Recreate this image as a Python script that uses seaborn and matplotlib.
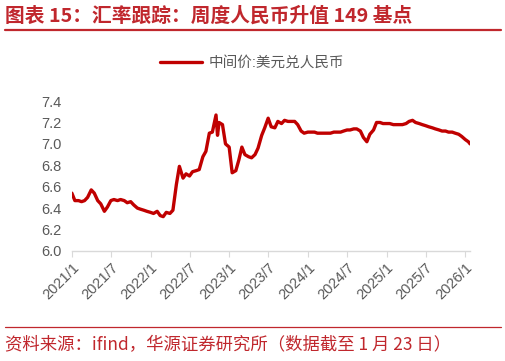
import pandas as pd
import seaborn as sns
import matplotlib.pyplot as plt

# semi-monthly readings of the USD/CNY central parity
dates = [
    "2021-01-01", "2021-01-15", "2021-02-01", "2021-02-15", "2021-03-01", "2021-03-15",
    "2021-04-01", "2021-04-15", "2021-05-01", "2021-05-15", "2021-06-01", "2021-06-15",
    "2021-07-01", "2021-07-15", "2021-08-01", "2021-08-15", "2021-09-01", "2021-09-15",
    "2021-10-01", "2021-10-15", "2021-11-01", "2021-11-15", "2021-12-01", "2021-12-15",
    "2022-01-01", "2022-01-15", "2022-02-01", "2022-02-15", "2022-03-01", "2022-03-15",
    "2022-04-01", "2022-04-15", "2022-05-01", "2022-05-15", "2022-06-01", "2022-06-15",
    "2022-07-01", "2022-07-15", "2022-08-01", "2022-08-15", "2022-09-01", "2022-09-15",
    "2022-10-01", "2022-10-15", "2022-11-01", "2022-11-08", "2022-11-15", "2022-12-01",
    "2022-12-15",
    "2023-01-01", "2023-01-15", "2023-02-01", "2023-02-15", "2023-03-01", "2023-03-15",
    "2023-04-01", "2023-04-15", "2023-05-01", "2023-05-15", "2023-06-01", "2023-06-15",
    "2023-07-01", "2023-07-15", "2023-08-01", "2023-08-15", "2023-09-01", "2023-09-15",
    "2023-10-01", "2023-10-15", "2023-11-01", "2023-11-15", "2023-12-01", "2023-12-15",
    "2024-01-01", "2024-01-15", "2024-02-01", "2024-02-15", "2024-03-01", "2024-03-15",
    "2024-04-01", "2024-04-15", "2024-05-01", "2024-05-15", "2024-06-01", "2024-06-15",
    "2024-07-01", "2024-07-15", "2024-08-01", "2024-08-15", "2024-09-01", "2024-09-15",
    "2024-10-01", "2024-10-15", "2024-11-01", "2024-11-15", "2024-12-01", "2024-12-15",
    "2025-01-01", "2025-01-15", "2025-02-01", "2025-02-15", "2025-03-01", "2025-03-15",
    "2025-04-01", "2025-04-15", "2025-05-01", "2025-05-15", "2025-06-01", "2025-06-15",
    "2025-07-01", "2025-07-15", "2025-08-01", "2025-08-15", "2025-09-01", "2025-09-15",
    "2025-10-01", "2025-10-15", "2025-11-01", "2025-11-15", "2025-12-01", "2025-12-15",
    "2026-01-01", "2026-01-15", "2026-01-23",
]
rates = [
    6.54, 6.47, 6.47, 6.46, 6.47, 6.50,
    6.57, 6.54, 6.47, 6.44, 6.37, 6.41,
    6.47, 6.48, 6.47, 6.48, 6.47, 6.45,
    6.46, 6.43, 6.40, 6.39, 6.38, 6.37,
    6.36, 6.35, 6.37, 6.33, 6.32, 6.36,
    6.35, 6.38, 6.62, 6.79, 6.68, 6.72,
    6.70, 6.74, 6.75, 6.76, 6.88, 6.93,
    7.10, 7.11, 7.27, 7.08, 7.20, 7.18,
    7.00,
    6.97, 6.73, 6.75, 6.85, 6.97, 6.90,
    6.88, 6.87, 6.90, 6.96, 7.08, 7.15,
    7.24, 7.16, 7.15, 7.21, 7.19, 7.22,
    7.21, 7.21, 7.21, 7.18, 7.12, 7.10,
    7.11, 7.11, 7.11, 7.10, 7.10, 7.10,
    7.10, 7.10, 7.11, 7.11, 7.11, 7.12,
    7.13, 7.13, 7.14, 7.14, 7.12, 7.06,
    7.02, 7.09, 7.13, 7.20, 7.20, 7.19,
    7.19, 7.19, 7.18, 7.18, 7.18, 7.18,
    7.19, 7.21, 7.22, 7.20, 7.19, 7.18,
    7.17, 7.16, 7.15, 7.14, 7.13, 7.12,
    7.12, 7.11, 7.11, 7.10, 7.09, 7.07,
    7.04, 7.02, 7.00,
]
tick_dates = ["2021-01-01", "2021-07-01", "2022-01-01", "2022-07-01", "2023-01-01", "2023-07-01",
              "2024-01-01", "2024-07-01", "2025-01-01", "2025-07-01", "2026-01-01"]
tick_labels = ["2021/1", "2021/7", "2022/1", "2022/7", "2023/1", "2023/7",
               "2024/1", "2024/7", "2025/1", "2025/7", "2026/1"]
y_ticks = [6.0, 6.2, 6.4, 6.6, 6.8, 7.0, 7.2, 7.4]

series_name = "中间价:美元兑人民币"
df = pd.DataFrame({"date": pd.to_datetime(dates), "rate": rates})

sns.set_style("white")
plt.rcParams["font.family"] = ["Liberation Sans", "Noto Sans CJK SC", "DejaVu Sans"]

red = "#C00000"
title_red = "#C0272D"
grey = "#595959"

fig = plt.figure(figsize=(5.06, 3.61), dpi=100)
ax = fig.add_axes([0.142, 0.305, 0.787, 0.415])

sns.lineplot(data=df, x="date", y="rate", ax=ax, color=red, linewidth=2.4, label=series_name)

ax.set_xlim(pd.Timestamp("2021-01-01"), pd.Timestamp("2026-01-23"))
ax.set_ylim(6.0, 7.4)
ax.set_yticks(y_ticks)
ax.set_yticklabels([f"{v:.1f}" for v in y_ticks])
ax.set_xticks(pd.to_datetime(tick_dates))
ax.set_xticklabels(tick_labels, rotation=45, ha="right", rotation_mode="anchor")
ax.set_xlabel("")
ax.set_ylabel("")

for s in ["top", "right", "left"]:
    ax.spines[s].set_visible(False)
ax.spines["bottom"].set_color("#D9D9D9")
ax.spines["bottom"].set_linewidth(1.0)
ax.tick_params(axis="x", bottom=True, length=4, color="#D9D9D9", colors=grey, labelsize=10.5, pad=3)
ax.tick_params(axis="y", left=False, colors=grey, labelsize=10.5, pad=4)

leg = ax.legend(loc="lower center", bbox_to_anchor=(0.452, 1.12), frameon=False,
                fontsize=10.5, handlelength=2.9, handletextpad=0.4)
for t in leg.get_texts():
    t.set_color(grey)

# title, rules and source note
fig.text(0.01, 0.955, "图表 15：汇率跟踪：周度人民币升值 149 基点", color=title_red,
         fontsize=14.2, fontweight="bold", va="center", ha="left",
         family=["Noto Sans CJK SC", "DejaVu Sans"])
fig.add_artist(plt.Line2D([0.01, 0.99], [0.917, 0.917], color=title_red, linewidth=1.6))
fig.add_artist(plt.Line2D([0.01, 0.99], [0.095, 0.095], color=title_red, linewidth=0.9))
fig.text(0.01, 0.045, "资料来源：ifind，华源证券研究所（数据截至 1 月 23 日）", color=title_red,
         fontsize=12.5, va="center", ha="left", family=["Noto Sans CJK SC", "DejaVu Sans"])

plt.savefig("out.png", dpi=100)
